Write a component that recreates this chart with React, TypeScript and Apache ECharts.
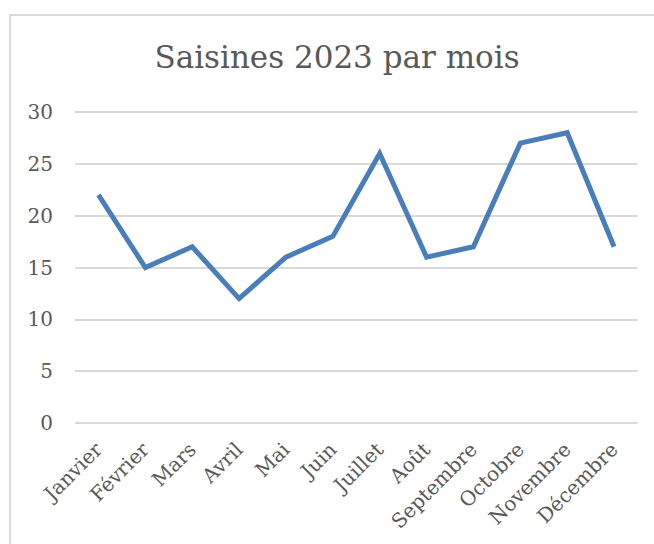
import React, { useEffect, useRef } from "react";
import * as echarts from "echarts";

const titleText = "Saisines 2023 par mois";
const months = [
  "Janvier", "Février", "Mars", "Avril", "Mai", "Juin",
  "Juillet", "Août", "Septembre", "Octobre", "Novembre", "Décembre",
];
const saisines = [22, 15, 17, 12, 16, 18, 26, 16, 17, 27, 28, 17];
const yMin = 0;
const yMax = 30;
const yStep = 5;

const FONT = "'DejaVu Serif', serif";
const TEXT = "#595959";

export default function App() {
  const ref = useRef<HTMLDivElement>(null);
  useEffect(() => {
    if (!ref.current) return;
    const chart = echarts.init(ref.current, null, { renderer: "svg" });
    chart.setOption({
      animation: false,
      backgroundColor: "#ffffff",
      textStyle: { fontFamily: FONT },
      graphic: [
        {
          type: "rect",
          shape: { x: 10, y: 15, width: 700, height: 600 },
          style: { fill: "none", stroke: "#d9d9d9", lineWidth: 2 },
          z: -1,
        },
        {
          type: "text",
          x: 337,
          y: 57,
          style: {
            text: titleText,
            fontFamily: FONT,
            fontSize: 31,
            fill: TEXT,
            align: "center",
            verticalAlign: "middle",
          },
        },
      ],
      grid: { left: 75, right: 16.5, top: 112, bottom: 121, containLabel: false },
      xAxis: {
        type: "category",
        data: months,
        boundaryGap: true,
        axisLine: { show: false },
        axisTick: { show: false },
        axisLabel: {
          rotate: 45,
          interval: 0,
          margin: 23,
          color: TEXT,
          fontFamily: FONT,
          fontSize: 20,
        },
      },
      yAxis: {
        type: "value",
        min: yMin,
        max: yMax,
        interval: yStep,
        axisLine: { show: false },
        axisTick: { show: false },
        axisLabel: { color: TEXT, fontFamily: FONT, fontSize: 20, margin: 22 },
        splitLine: { lineStyle: { color: "#d9d9d9", width: 2 } },
      },
      series: [
        {
          type: "line",
          data: saisines,
          showSymbol: false,
          symbol: "none",
          lineStyle: { color: "#4a7ebb", width: 5, join: "miter" },
          itemStyle: { color: "#4a7ebb" },
        },
      ],
    });
    return () => chart.dispose();
  }, []);
  return (
    <div
      ref={ref}
      style={{ position: "absolute", left: 0, top: 0, width: 654, height: 544 }}
    />
  );
}
